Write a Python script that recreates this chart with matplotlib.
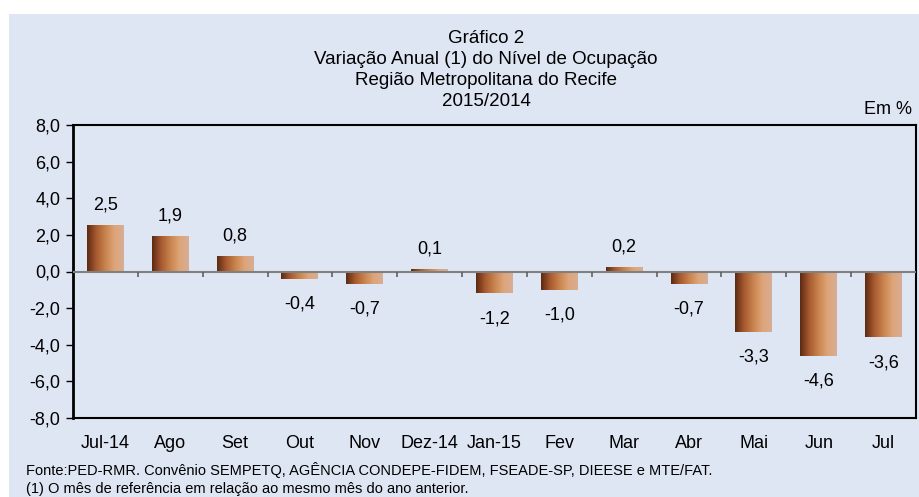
import matplotlib.pyplot as plt
from matplotlib.colors import LinearSegmentedColormap
from matplotlib.patches import Rectangle
import numpy as np

plt.rcParams['font.family'] = ['Liberation Sans', 'DejaVu Sans']

# dados
meses = ['Jul-14', 'Ago', 'Set', 'Out', 'Nov', 'Dez-14', 'Jan-15',
         'Fev', 'Mar', 'Abr', 'Mai', 'Jun', 'Jul']
variacao = [2.5, 1.9, 0.8, -0.4, -0.7, 0.1, -1.2, -1.0, 0.2, -0.7, -3.3, -4.6, -3.6]
yticks = [8, 6, 4, 2, 0, -2, -4, -6, -8]

titulo = 'Gráfico 2\nVariação Anual (1) do Nível de Ocupação\nRegião Metropolitana do Recife\n2015/2014'
fonte = 'Fonte:PED-RMR. Convênio SEMPETQ, AGÊNCIA CONDEPE-FIDEM, FSEADE-SP, DIEESE e MTE/FAT.'
nota = '(1) O mês de referência em relação ao mesmo mês do ano anterior.'

fundo = '#dee6f3'
grad = LinearSegmentedColormap.from_list(
    'bronze', ['#5a2912', '#a85a30', '#c8844e', '#dea579', '#d6ae96'])

fig = plt.figure(figsize=(9.2, 4.97), dpi=100, facecolor='white')
fundo_rect = Rectangle((9 / 920, 0), 1, 1 - 14 / 497, transform=fig.transFigure,
                       facecolor=fundo, edgecolor='none', zorder=-10)
fig.add_artist(fundo_rect)

ax = fig.add_axes([73 / 920, 1 - 418 / 497, (916 - 73) / 920, (418 - 125) / 497])
ax.set_facecolor(fundo)

x = np.arange(len(meses))
largura = 0.57
bars = ax.bar(x, variacao, width=largura, color='none', edgecolor='none', zorder=2)
gradiente = np.linspace(0, 1, 256).reshape(1, -1)
for b in bars:
    x0, y0 = b.get_x(), b.get_y()
    w, h = b.get_width(), b.get_height()
    ax.imshow(gradiente, cmap=grad, aspect='auto', zorder=2,
              extent=[x0, x0 + w, y0, y0 + h], interpolation='bicubic')

for xi, v in zip(x, variacao):
    lbl = f'{v:.1f}'.replace('.', ',')
    if v >= 0:
        ax.annotate(lbl, (xi, v), xytext=(0, 9), textcoords='offset points',
                    ha='center', va='bottom', fontsize=13)
    else:
        ax.annotate(lbl, (xi, v), xytext=(0, -12), textcoords='offset points',
                    ha='center', va='top', fontsize=13)

# linha do zero com marcas entre categorias
ax.axhline(0, color='#808080', lw=1.5, zorder=3)
ax.vlines(x[:-1] + 0.5, -0.3, 0, color='#606060', lw=1.2, zorder=3)

ax.set_xlim(-0.5, len(meses) - 0.5)
ax.set_ylim(-8, 8)
ax.set_yticks(yticks)
ax.set_yticklabels([f'{t:.1f}'.replace('.', ',') for t in yticks], fontsize=13)
ax.set_xticks(x)
ax.set_xticklabels(meses, fontsize=13)
ax.tick_params(axis='x', length=0, pad=12)
ax.tick_params(axis='y', length=5, width=1, pad=4, direction='out')
for s in ax.spines.values():
    s.set_color('black')
    s.set_linewidth(1.5)
ax.spines['left'].set_linewidth(2)

fig.text(486 / 920, 1 - 30 / 497, titulo, ha='center', va='top', fontsize=13.5,
         linespacing=1.3)
fig.text(912 / 920, 1 - 110 / 497, 'Em %', ha='right', va='center', fontsize=13)
fig.text(26 / 920, 1 - 470 / 497, fonte, ha='left', va='center', fontsize=10.5)
fig.text(26 / 920, 1 - 489 / 497, nota, ha='left', va='center', fontsize=10.5)

fig.savefig('out.png', dpi=100, facecolor='white')
